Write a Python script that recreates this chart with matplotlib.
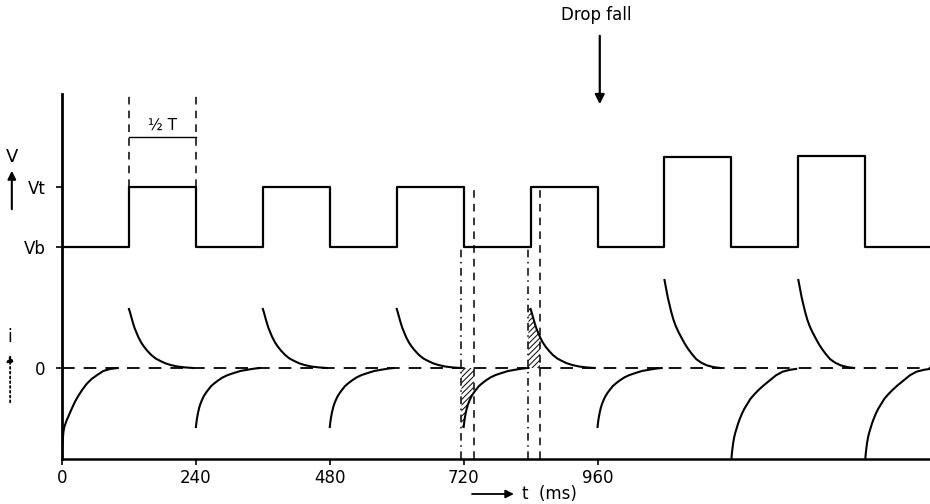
import numpy as np
import matplotlib.pyplot as plt

# pulse train: edge times (ms) and potential level after each edge (sketch units)
edge_t = [0, 120, 240, 360, 480, 600, 720, 840, 960, 1080, 1200, 1320, 1440, 1556]
v_level = [212, 272, 212, 272, 212, 272, 212, 272, 212, 302, 212, 303, 212, 212]
Vb, Vt = 212, 272
i_zero = 91

# current transients: edge times and peak heights
rise_t = [120, 360, 600, 840, 1080, 1320]
rise_amp = [59, 59, 59, 59, 88, 88]
fall_t = [240, 480, 720, 960, 1200, 1440]
fall_amp = [-59, -59, -59, -59, -91, -91]

# decay shapes: ms after edge, fraction of peak
pos_small_dt = [0, 2, 4, 7, 10, 13, 17, 22, 27, 33, 40, 48, 56, 65, 75, 87, 100, 115]
pos_small_f = [1, .94, .87, .77, .68, .61, .52, .43, .36, .29, .22, .16, .12, .08, .05, .025, .01, 0]
pos_big_dt = [0, 3, 6, 9, 12, 16, 20, 25, 30, 36, 42, 49, 57, 66, 76, 88, 100]
pos_big_f = [1, .90, .80, .72, .64, .55, .48, .41, .35, .28, .22, .16, .10, .06, .03, .01, 0]
neg_small_dt = [0, 1, 2, 4, 6, 8, 11, 14, 18, 22, 27, 33, 40, 48, 57, 68, 80, 92, 105, 115]
neg_small_f = [1, .92, .85, .75, .67, .61, .54, .48, .42, .37, .31, .26, .21, .16, .12, .085, .05, .03, .01, 0]
neg_big_dt = [0, 1, 3, 5, 7, 9, 12, 15, 19, 23, 28, 34, 41, 49, 58, 68, 80, 92, 105, 116]
neg_big_f = [1, .93, .83, .76, .71, .67, .61, .56, .50, .45, .40, .34, .29, .24, .19, .14, .08, .04, .02, .01]

# first transient at t = 0
start_t = [0, 1, 2.5, 4, 6, 8.5, 11, 14, 18, 23, 29, 36, 44, 53, 63, 74, 86, 100]
start_i = [-82, -74, -64, -59, -56, -52, -49, -45, -40, -34, -28, -22, -16, -11, -7, -3, -1, 0]

# marker lines around the drop fall
dashdot_t = [716, 836]
dashed_t = [738, 857]

tick_t = [0, 240, 480, 720, 960]

plt.rcParams['hatch.linewidth'] = 0.7
fig = plt.figure(figsize=(9.3, 5.04), dpi=100)
ax = fig.add_axes([0.0667, 0.0893, 0.9333, 0.7242])

ax.plot(edge_t, v_level, drawstyle='steps-post', color='k', lw=1.6)
ax.axhline(i_zero, color='k', lw=1.3, ls=(0, (7, 5)))


def transient(t0, amp):
    if amp > 0:
        dt, f = (pos_big_dt, pos_big_f) if amp > 70 else (pos_small_dt, pos_small_f)
    else:
        dt, f = (neg_big_dt, neg_big_f) if amp < -70 else (neg_small_dt, neg_small_f)
    return np.array(dt) + t0, i_zero + amp * np.array(f)


curves = {}
for t0, a in list(zip(rise_t, rise_amp)) + list(zip(fall_t, fall_amp)):
    x, y = transient(t0, a)
    curves[t0] = (x, y)
    ax.plot(x, y, color='k', lw=1.5)
ax.plot(start_t, i_zero + np.array(start_i), color='k', lw=1.5)

# hatched charge around the drop fall
for (a, b), t0 in zip(zip(dashdot_t, dashed_t), [720, 840]):
    x, y = curves[t0]
    xs = np.linspace(a, b, 30)
    ys = np.interp(xs, x, y)
    ax.fill_between(xs, ys, i_zero, facecolor='none', edgecolor='k',
                    hatch='//////', linewidth=0)

for t in dashdot_t:
    ax.plot([t, t], [0, Vb], color='k', lw=1.1, ls=(0, (5, 3, 1, 3)))
for t in dashed_t:
    ax.plot([t, t], [0, Vt], color='k', lw=1.1, ls=(0, (5, 4)))

# half period marker
for t in [120, 240]:
    ax.plot([t, t], [Vt, 365], color='k', lw=1.1, ls=(0, (5, 4)), clip_on=False)
ax.plot([120, 240], [322, 322], color='k', lw=1.0)
ax.text(181, 326, '½ T', ha='center', va='bottom', fontsize=11)

ax.set_xlim(0, 1556)
ax.set_ylim(0, 365)
ax.set_xticks(tick_t)
ax.set_yticks([i_zero, Vb, Vt], labels=['0', 'Vb', 'Vt'])
ax.tick_params(axis='both', direction='out', length=4, width=1.2, labelsize=12)
ax.tick_params(axis='y', pad=8)
ax.spines['top'].set_visible(False)
ax.spines['right'].set_visible(False)
ax.spines['left'].set_linewidth(2)
ax.spines['bottom'].set_linewidth(1.8)

# axis annotations
ax.text(-90, 302, 'V', ha='center', va='center', fontsize=13, clip_on=False)
ax.annotate('', xy=(-90, 291), xytext=(-90, 247), annotation_clip=False,
            arrowprops=dict(arrowstyle='-|>', color='k', lw=1.5, mutation_scale=12))
ax.text(-93, 122, 'i', ha='center', va='center', fontsize=12, clip_on=False)
ax.annotate('', xy=(-93, 107), xytext=(-93, 54), annotation_clip=False,
            arrowprops=dict(arrowstyle='-|>', color='k', lw=1.3, ls=':', mutation_scale=10))

ax.annotate('', xy=(815, -35), xytext=(730, -35), annotation_clip=False,
            arrowprops=dict(arrowstyle='-|>', color='k', lw=1.3, mutation_scale=12))
ax.text(825, -35, 't  (ms)', ha='left', va='center', fontsize=12, clip_on=False)

ax.text(957, 444, 'Drop fall', ha='center', va='center', fontsize=12, clip_on=False)
ax.annotate('', xy=(964, 352), xytext=(964, 426), annotation_clip=False,
            arrowprops=dict(arrowstyle='-|>', color='k', lw=1.6, mutation_scale=14))

fig.savefig('out.png', dpi=100)
